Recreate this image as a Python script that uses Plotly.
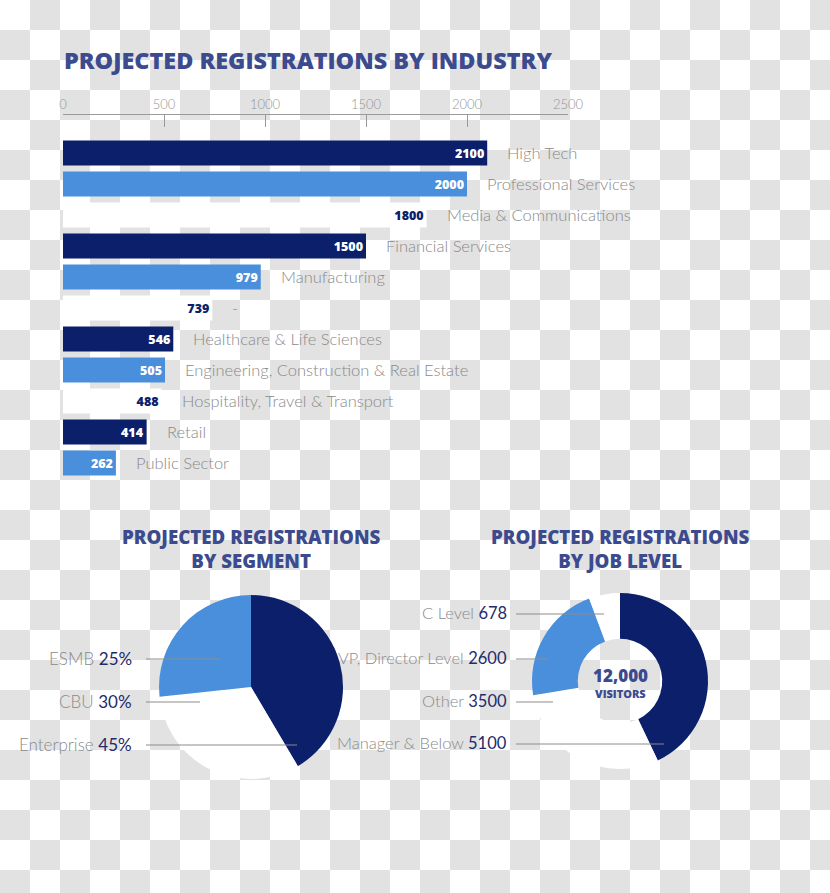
import plotly.graph_objects as go

W, H = 830, 893

# ---------------- data ----------------
industries = ["High Tech", "Professional Services", "Media & Communications",
              "Financial Services", "Manufacturing", "-",
              "Healthcare & Life Sciences", "Engineering, Construction & Real Estate",
              "Hospitality, Travel & Transport", "Retail", "Public Sector"]
industry_values = [2100, 2000, 1800, 1500, 979, 739, 546, 505, 488, 414, 262]
axis_ticks = [0, 500, 1000, 1500, 2000, 2500]

segment_names = ["Enterprise", "CBU", "ESMB"]
segment_pct_labels = [45, 30, 25]          # percentages printed on the chart
segment_slice_share = [41.5, 31.8, 26.7]   # slice sizes as drawn in the picture

job_levels = ["Manager & Below", "Other", "VP, Director Level", "C Level"]
job_values = [5100, 3500, 2600, 678]
visitors_total = "12,000"

# ---------------- style ----------------
NAVY = "#0b1f6b"
LIGHT = "#4a8fdb"
WHITE = "#ffffff"
TITLE = "#3c4a8e"
GRAY = "#8a8a8a"
NUMC = "#1f2b6b"
CHECK = "#e2e2e2"
HEAVY = "Open Sans"
bar_colors = ([NAVY, LIGHT, WHITE] * 4)[:len(industries)]
text_colors = [NAVY if c == WHITE else WHITE for c in bar_colors]


def px(x):
    return x / W


def py(y):
    return 1 - y / H


fig = go.Figure()

# checkerboard background (transparent-image look)
ncol, nrow = 28, 30
z = [[(i + j) % 2 for j in range(ncol)] for i in range(nrow)]
fig.add_trace(go.Heatmap(z=z, x0=15, dx=30, y0=15, dy=30,
                         colorscale=[[0, WHITE], [1, CHECK]], showscale=False,
                         hoverinfo="skip", xaxis="x", yaxis="y"))

# horizontal bars
fig.add_trace(go.Bar(
    x=industry_values, y=industries, orientation="h",
    marker=dict(color=bar_colors, line=dict(width=0)),
    text=[str(v) for v in industry_values], textposition="inside",
    insidetextanchor="end", textangle=0,
    insidetextfont=dict(family=HEAVY, size=12.5, color=text_colors, weight=800),
    hoverinfo="skip", xaxis="x2", yaxis="y2"))

# category labels beside bars
annotations = []
for name, v in zip(industries, industry_values):
    annotations.append(dict(x=v, y=name, xref="x2", yref="y2", text=name,
                            showarrow=False, xanchor="left", yanchor="middle",
                            xshift=18, font=dict(family="Lato", size=16.5, color=GRAY, weight=300)))

# segment pie
fig.add_trace(go.Pie(
    values=segment_slice_share, labels=segment_names, sort=False,
    direction="clockwise", rotation=0,
    marker=dict(colors=[NAVY, WHITE, LIGHT], line=dict(width=0)),
    textinfo="none", textposition="none", hoverinfo="skip", showlegend=False,
    domain=dict(x=[px(159), px(343)], y=[py(779), py(595)])))

# job level donut
fig.add_trace(go.Pie(
    values=job_values, labels=job_levels, sort=False,
    direction="clockwise", rotation=0, hole=0.48,
    marker=dict(colors=[NAVY, WHITE, LIGHT, WHITE], line=dict(width=0)),
    textinfo="none", textposition="none", hoverinfo="skip", showlegend=False,
    domain=dict(x=[px(532), px(708)], y=[py(769), py(593)])))

# titles
annotations.append(dict(x=px(62), y=py(60), xref="paper", yref="paper",
                        text="PROJECTED REGISTRATIONS BY INDUSTRY", showarrow=False,
                        xanchor="left", yanchor="middle",
                        font=dict(family=HEAVY, size=23.4, color=TITLE, weight=800)))
for cx, sub in [(251, "BY SEGMENT"), (620, "BY JOB LEVEL")]:
    annotations.append(dict(x=px(cx), y=py(548), xref="paper", yref="paper",
                            text="PROJECTED REGISTRATIONS<br>" + sub, showarrow=False,
                            xanchor="center", yanchor="middle", align="center",
                            font=dict(family=HEAVY, size=18.7, color=TITLE, weight=800)))

# donut centre text
annotations.append(dict(x=px(620), y=py(675), xref="paper", yref="paper",
                        text=visitors_total, showarrow=False,
                        xanchor="center", yanchor="middle",
                        font=dict(family=HEAVY, size=17, color=TITLE, weight=800)))
annotations.append(dict(x=px(620), y=py(693), xref="paper", yref="paper",
                        text="VISITORS", showarrow=False,
                        xanchor="center", yanchor="middle",
                        font=dict(family=HEAVY, size=11, color=TITLE, weight=800)))

shapes = []
# segment labels + leader lines
seg_label_y = {"ESMB": 658, "CBU": 701, "Enterprise": 744}
seg_line_end = {"ESMB": 219, "CBU": 200, "Enterprise": 297}
for name, pct in zip(segment_names, segment_pct_labels):
    yy = seg_label_y[name]
    annotations.append(dict(x=px(134), y=py(yy), xref="paper", yref="paper",
                            text=f"{name} <span style='color:{NUMC};font-weight:400'>{pct}%</span>",
                            showarrow=False, xanchor="right", yanchor="middle",
                            font=dict(family="Lato", size=17, color=GRAY, weight=300)))
    shapes.append(dict(type="line", xref="paper", yref="paper",
                       x0=px(146), x1=px(seg_line_end[name]), y0=py(yy + 1), y1=py(yy + 1),
                       line=dict(color="#8c8c8c", width=1)))

# job level labels + leader lines
job_label_y = {"C Level": 613, "VP, Director Level": 658, "Other": 701, "Manager & Below": 743}
job_line_end = {"C Level": 604, "VP, Director Level": 548, "Other": 553, "Manager & Below": 664}
for name, v in zip(job_levels, job_values):
    yy = job_label_y[name]
    annotations.append(dict(x=px(509), y=py(yy), xref="paper", yref="paper",
                            text=f"{name} <span style='color:{NUMC};font-weight:400'>{v}</span>",
                            showarrow=False, xanchor="right", yanchor="middle",
                            font=dict(family="Lato", size=16.5, color=GRAY, weight=300)))
    shapes.append(dict(type="line", xref="paper", yref="paper",
                       x0=px(516), x1=px(job_line_end[name]), y0=py(yy + 1), y1=py(yy + 1),
                       line=dict(color="#8c8c8c", width=1)))

row = 31.0
y_top_px, y_bot_px = 115, 480
first_c = 153
r_top = (y_top_px - first_c) / row
r_bot = (y_bot_px - first_c) / row

fig.update_layout(
    template="none",
    width=W, height=H, autosize=False, margin=dict(l=0, r=0, t=0, b=0, pad=0, autoexpand=False),
    paper_bgcolor=WHITE, plot_bgcolor="rgba(0,0,0,0)", showlegend=False,
    bargap=1 - 25 / row,
    xaxis=dict(domain=[0, 1], range=[0, W], visible=False, fixedrange=True, automargin=False),
    yaxis=dict(domain=[0, 1], range=[H, 0], visible=False, fixedrange=True, automargin=False),
    xaxis2=dict(domain=[px(63), px(568)], range=[0, 2500], anchor="y2", side="top",
                tickmode="array", tickvals=axis_ticks, ticks="inside", ticklen=12,
                tickcolor="#9a9a9a", tickwidth=1.2, showline=True, linecolor="#9a9a9a",
                linewidth=1.2, showgrid=False, zeroline=False, fixedrange=True, automargin=False,
                tickfont=dict(family="Lato", size=13, color="#969696", weight=300)),
    yaxis2=dict(domain=[py(y_bot_px), py(y_top_px)], anchor="x2", type="category",
                categoryorder="array", categoryarray=industries, automargin=False,
                range=[r_bot, r_top], visible=False, fixedrange=True),
    annotations=annotations, shapes=shapes,
)

post = ("document.documentElement.style.overflow='hidden';"
        "document.body.style.margin='0';document.body.style.overflow='hidden';")
fig.write_html("out.html", config={"displayModeBar": False}, post_script=post)
